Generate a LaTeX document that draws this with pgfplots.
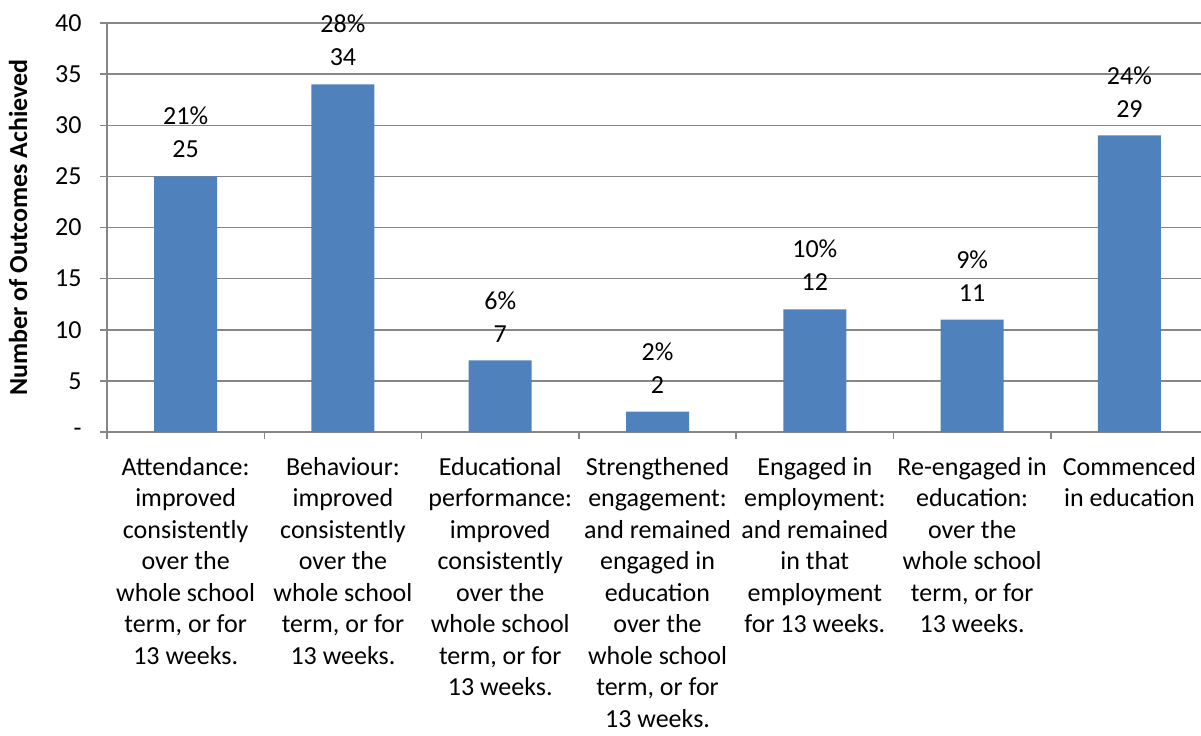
\documentclass[border=0pt]{standalone}
\usepackage{pgfplots}
\pgfplotsset{compat=1.18}
\usepackage{fontspec}
\setmainfont{Carlito}
\definecolor{barblue}{RGB}{79,129,189}
\definecolor{gridgray}{RGB}{134,134,134}
\pgfplotstableread{
x y pct
0 25 21
1 34 28
2 7 6
3 2 2
4 12 10
5 11 9
6 29 24
}\outcomes
\begin{document}
\begin{tikzpicture}
\begin{axis}[
  at={(0,0)}, anchor=south west, scale only axis,
  width=547pt, height=204.5pt,
  xmin=-0.5, xmax=6.455, ymin=0, ymax=40,
  enlargelimits=false,
  /pgf/number format/assume math mode=true,
  axis x line=bottom, axis y line=left,
  axis line style={-, draw=gridgray, line width=0.75pt},
  ybar, bar width=31.5pt,
  ytick={0,5,...,40},
  yticklabels={-,5,10,15,20,25,30,35,40},
  ymajorgrids, grid style={gridgray, line width=0.75pt},
  major tick length=3.5pt, minor tick length=3.5pt,
  tick align=outside,
  tick style={gridgray, line width=0.75pt},
  xtick={0,...,6},
  x tick style={draw=none},
  minor xtick={-0.5,0.5,1.5,2.5,3.5,4.5,5.5},
  minor x tick style={draw=gridgray, line width=0.75pt},
  xticklabels={
    {Attendance:\\improved\\consistently\\over the\\whole school\\term, or for\\13 weeks.},
    {Behaviour:\\improved\\consistently\\over the\\whole school\\term, or for\\13 weeks.},
    {Educational\\performance:\\improved\\consistently\\over the\\whole school\\term, or for\\13 weeks.},
    {Strengthened\\engagement:\\and remained\\engaged in\\education\\over the\\whole school\\term, or for\\13 weeks.},
    {Engaged in\\employment:\\and remained\\in that\\employment\\for 13 weeks.},
    {Re-engaged in\\education:\\over the\\whole school\\term, or for\\13 weeks.},
    {Commenced\\in education}
  },
  xticklabel style={align=center, anchor=north, inner sep=0pt, yshift=-9pt,
    font=\fontsize{13}{15.75}\selectfont},
  yticklabel style={anchor=east, inner sep=0pt, xshift=-9pt,
    font=\fontsize{13}{15.75}\selectfont},
  ylabel={Number of Outcomes Achieved},
  ylabel style={at={(axis description cs:0,0.5)}, anchor=center, rotate=0,
    yshift=44.5pt, font=\bfseries\fontsize{13}{15.5}\selectfont},
  visualization depends on={\thisrow{pct}\as\pct},
  nodes near coords={\pgfmathprintnumber{\pct}\%\\\pgfmathprintnumber{\pgfplotspointmeta}},
  every node near coord/.append style={align=center, anchor=south, inner sep=0pt,
    yshift=9pt, font=\fontsize{13}{16.5}\selectfont, text=black},
  point meta=y,
]
\addplot[fill=barblue, draw=none] table[x=x, y=y] {\outcomes};
\end{axis}
\pgfresetboundingbox
\useasboundingbox (-53.5pt,-151.5pt) rectangle (547pt,216pt);
\end{tikzpicture}
\end{document}
